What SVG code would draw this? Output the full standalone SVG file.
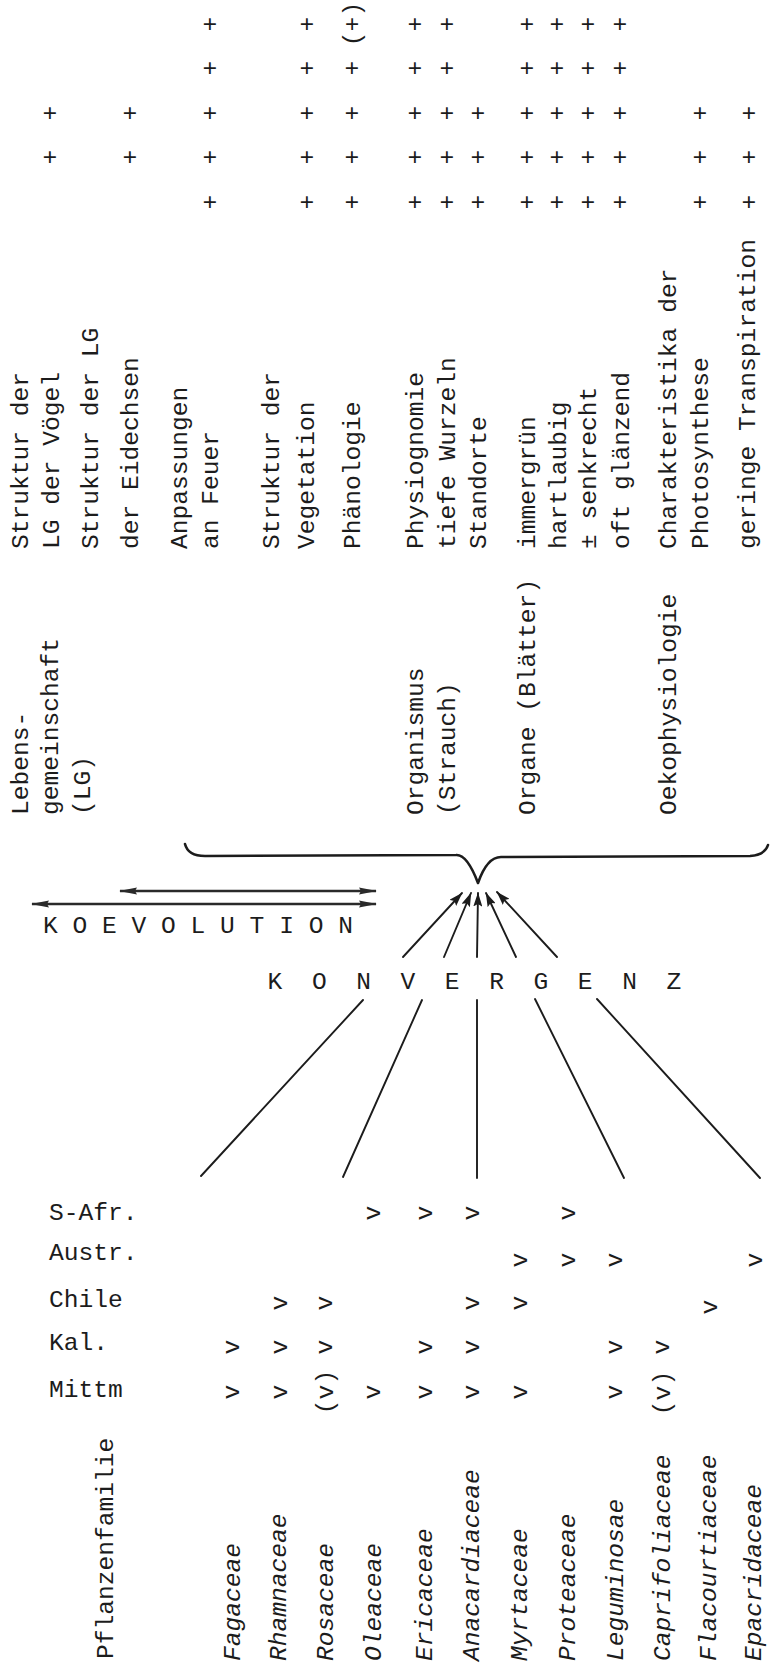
<svg xmlns="http://www.w3.org/2000/svg" width="770" height="1671" viewBox="0 0 770 1671">
<style>
text{font-family:"Liberation Mono","Courier New",monospace;font-size:24.6px;fill:#1c1c1c}
.it{font-style:italic}
.m{text-anchor:middle}
.ln{fill:none;stroke:#1c1c1c;stroke-width:1.9;stroke-linecap:round}
.br{fill:none;stroke:#1c1c1c;stroke-width:2.6;stroke-linejoin:round;stroke-linecap:round}
.ko{fill:none;stroke:#2a2a2a;stroke-width:2.4}
</style>
<defs>
<marker id="ahK" viewBox="0 0 18 8" refX="17" refY="4" markerWidth="18" markerHeight="8" markerUnits="userSpaceOnUse" orient="auto-start-reverse"><path d="M0,0.4 L18,4 L0,7.6 L2,4 z" fill="#2a2a2a"/></marker>
<marker id="ahC" viewBox="0 0 14 9" refX="13.5" refY="4.5" markerWidth="14" markerHeight="9" markerUnits="userSpaceOnUse" orient="auto"><path d="M0,0 L14,4.5 L0,9 L2.5,4.5 z" fill="#1c1c1c"/></marker>
</defs>
<rect width="770" height="1671" fill="#fff"/>

<!-- plus grid -->
<g id="marks-plus" class="m">
<text x="210" y="31.6">+</text><text x="307" y="31.6">+</text><text transform="translate(359.5 24) rotate(-90)">(+)</text><text x="415" y="31.6">+</text><text x="447" y="31.6">+</text><text x="527" y="31.6">+</text><text x="557" y="31.6">+</text><text x="588" y="31.6">+</text><text x="620" y="31.6">+</text>
<text x="210" y="75.6">+</text><text x="307" y="75.6">+</text><text x="352" y="75.6">+</text><text x="415" y="75.6">+</text><text x="447" y="75.6">+</text><text x="527" y="75.6">+</text><text x="557" y="75.6">+</text><text x="588" y="75.6">+</text><text x="620" y="75.6">+</text>
<text x="50" y="120.6">+</text><text x="130" y="120.6">+</text><text x="210" y="120.6">+</text><text x="307" y="120.6">+</text><text x="352" y="120.6">+</text><text x="415" y="120.6">+</text><text x="447" y="120.6">+</text><text x="478" y="120.6">+</text><text x="527" y="120.6">+</text><text x="557" y="120.6">+</text><text x="588" y="120.6">+</text><text x="620" y="120.6">+</text><text x="700" y="120.6">+</text><text x="749" y="120.6">+</text>
<text x="50" y="164.6">+</text><text x="130" y="164.6">+</text><text x="210" y="164.6">+</text><text x="307" y="164.6">+</text><text x="352" y="164.6">+</text><text x="415" y="164.6">+</text><text x="447" y="164.6">+</text><text x="478" y="164.6">+</text><text x="527" y="164.6">+</text><text x="557" y="164.6">+</text><text x="588" y="164.6">+</text><text x="620" y="164.6">+</text><text x="700" y="164.6">+</text><text x="749" y="164.6">+</text>
<text x="210" y="209.6">+</text><text x="307" y="209.6">+</text><text x="352" y="209.6">+</text><text x="415" y="209.6">+</text><text x="447" y="209.6">+</text><text x="478" y="209.6">+</text><text x="527" y="209.6">+</text><text x="557" y="209.6">+</text><text x="588" y="209.6">+</text><text x="620" y="209.6">+</text><text x="700" y="209.6">+</text><text x="749" y="209.6">+</text>
</g>

<!-- detail texts -->
<g id="details-lg">
<text transform="translate(27.6 549) rotate(-90)">Struktur der</text>
<text transform="translate(59 549) rotate(-90)">LG der Vögel</text>
<text transform="translate(98 549) rotate(-90)">Struktur der LG</text>
<text transform="translate(138 549) rotate(-90)">der Eidechsen</text>
<text transform="translate(187 549) rotate(-90)">Anpassungen</text>
<text transform="translate(218 549) rotate(-90)">an Feuer</text>
<text transform="translate(279 549) rotate(-90)">Struktur der</text>
<text transform="translate(314 549) rotate(-90)">Vegetation</text>
<text transform="translate(360 549) rotate(-90)">Phänologie</text>
</g>
<g id="details-organismus">
<text transform="translate(423 549) rotate(-90)">Physiognomie</text>
<text transform="translate(455 549) rotate(-90)">tiefe Wurzeln</text>
<text transform="translate(486 549) rotate(-90)">Standorte</text>
</g>
<g id="details-organe">
<text transform="translate(535 549) rotate(-90)">immergrün</text>
<text transform="translate(566 549) rotate(-90)">hartlaubig</text>
<text transform="translate(596 549) rotate(-90)">± senkrecht</text>
<text transform="translate(629 549) rotate(-90)">oft glänzend</text>
</g>
<g id="details-oeko">
<text transform="translate(676 549) rotate(-90)">Charakteristika der</text>
<text transform="translate(708 549) rotate(-90)">Photosynthese</text>
<text transform="translate(755 549) rotate(-90)">geringe Transpiration</text>
</g>

<!-- categories -->
<g id="cat-lebensgemeinschaft">
<text transform="translate(27.6 815) rotate(-90)">Lebens-</text>
<text transform="translate(58 815) rotate(-90)">gemeinschaft</text>
<text transform="translate(90 815) rotate(-90)">(LG)</text>
</g>
<g id="cat-organismus">
<text transform="translate(423 815) rotate(-90)">Organismus</text>
<text transform="translate(455 815) rotate(-90)">(Strauch)</text>
</g>
<g id="cat-organe"><text transform="translate(535 815) rotate(-90)">Organe (Blätter)</text></g>
<g id="cat-oeko"><text transform="translate(676 815) rotate(-90)">Oekophysiologie</text></g>

<!-- labels -->
<g id="label-koevolution"><text x="43" y="933">K O E V O L U T I O N</text></g>
<g id="label-konvergenz"><text x="267.6" y="989" style="letter-spacing:7.4px">K O N V E R G E N Z</text></g>

<!-- connectors -->
<g id="connectors">
<path class="br" d="M185,844 Q188,856 205,856 L456,855 Q467,854 478,883 Q487,857 501,857 L750,856 Q765,855 768,845"/>
<line class="ko" x1="120" y1="891" x2="376" y2="891" marker-start="url(#ahK)" marker-end="url(#ahK)"/>
<line class="ko" x1="32" y1="904" x2="376" y2="904" marker-start="url(#ahK)" marker-end="url(#ahK)"/>
<line class="ln" x1="403" y1="957" x2="462" y2="893" marker-end="url(#ahC)"/>
<line class="ln" x1="444" y1="957" x2="471" y2="893" marker-end="url(#ahC)"/>
<line class="ln" x1="477" y1="957" x2="478" y2="893" marker-end="url(#ahC)"/>
<line class="ln" x1="516" y1="957" x2="486" y2="893" marker-end="url(#ahC)"/>
<line class="ln" x1="557" y1="957" x2="497" y2="892" marker-end="url(#ahC)"/>
<line class="ln" x1="363" y1="1000" x2="201" y2="1176"/>
<line class="ln" x1="422" y1="1000" x2="343" y2="1177"/>
<line class="ln" x1="477" y1="1000" x2="477" y2="1178"/>
<line class="ln" x1="535" y1="999" x2="624" y2="1178"/>
<line class="ln" x1="597" y1="999" x2="760" y2="1178"/>
</g>

<!-- regions -->
<g id="regions">
<text x="49" y="1220">S-Afr.</text>
<text x="49" y="1260">Austr.</text>
<text x="49" y="1307">Chile</text>
<text x="49" y="1350">Kal.</text>
<text x="49" y="1397">Mittm</text>
</g>

<!-- v marks -->
<g id="marks-v" class="m">
<text transform="translate(380 1213) rotate(-90)">v</text><text transform="translate(432 1213) rotate(-90)">v</text><text transform="translate(479 1213) rotate(-90)">v</text><text transform="translate(575 1213) rotate(-90)">v</text>
<text transform="translate(527 1260) rotate(-90)">v</text><text transform="translate(575 1260) rotate(-90)">v</text><text transform="translate(622 1260) rotate(-90)">v</text><text transform="translate(762 1260) rotate(-90)">v</text>
<text transform="translate(286.5 1303) rotate(-90)">v</text><text transform="translate(332 1303) rotate(-90)">v</text><text transform="translate(479 1303) rotate(-90)">v</text><text transform="translate(527 1303) rotate(-90)">v</text><text transform="translate(717 1307) rotate(-90)">v</text>
<text transform="translate(239 1347) rotate(-90)">v</text><text transform="translate(286.5 1347) rotate(-90)">v</text><text transform="translate(332 1347) rotate(-90)">v</text><text transform="translate(432 1347) rotate(-90)">v</text><text transform="translate(479 1347) rotate(-90)">v</text><text transform="translate(622 1347) rotate(-90)">v</text><text transform="translate(669 1347) rotate(-90)">v</text>
<text transform="translate(239 1392) rotate(-90)">v</text><text transform="translate(286.5 1392) rotate(-90)">v</text><text transform="translate(333 1392) rotate(-90)">(v)</text><text transform="translate(380 1392) rotate(-90)">v</text><text transform="translate(432 1392) rotate(-90)">v</text><text transform="translate(479 1392) rotate(-90)">v</text><text transform="translate(527 1392) rotate(-90)">v</text><text transform="translate(622 1392) rotate(-90)">v</text><text transform="translate(670 1393) rotate(-90)">(v)</text>
</g>

<!-- families -->
<g id="header-pflanzenfamilie"><text transform="translate(113 1659) rotate(-90)">Pflanzenfamilie</text></g>
<g id="families" class="it">
<text transform="translate(240 1661) rotate(-90)">Fagaceae</text>
<text transform="translate(286 1661) rotate(-90)">Rhamnaceae</text>
<text transform="translate(333 1661) rotate(-90)">Rosaceae</text>
<text transform="translate(381 1661) rotate(-90)">Oleaceae</text>
<text transform="translate(432 1661) rotate(-90)">Ericaceae</text>
<text transform="translate(479 1661) rotate(-90)">Anacardiaceae</text>
<text transform="translate(527 1661) rotate(-90)">Myrtaceae</text>
<text transform="translate(575 1661) rotate(-90)">Proteaceae</text>
<text transform="translate(623 1661) rotate(-90)">Leguminosae</text>
<text transform="translate(670 1661) rotate(-90)">Caprifoliaceae</text>
<text transform="translate(716 1661) rotate(-90)">Flacourtiaceae</text>
<text transform="translate(761 1661) rotate(-90)">Epacridaceae</text>
</g>
</svg>
